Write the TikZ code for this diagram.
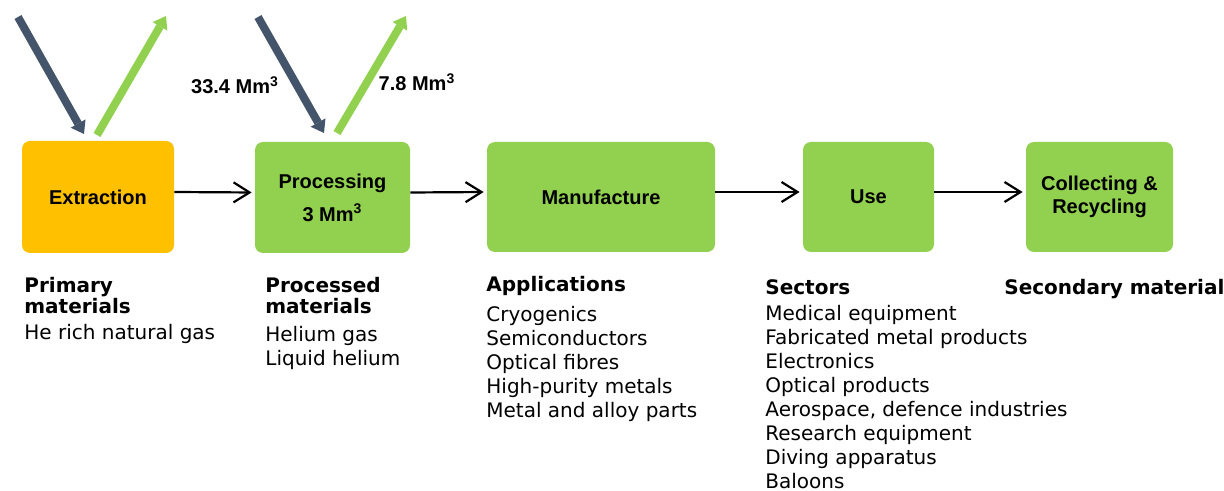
\documentclass[tikz,border=0pt]{standalone}
\usepackage{fontspec}
\setmainfont{DejaVu Sans}
\newfontfamily\arialfont{Liberation Sans}
\usetikzlibrary{arrows.meta,positioning}
\definecolor{extFill}{HTML}{FFC000}
\definecolor{stageFill}{HTML}{92D050}
\definecolor{inDraw}{HTML}{44546A}
\definecolor{outDraw}{HTML}{92D050}
\tikzset{
  box/.style    ={rounded corners=4pt, align=center, inner sep=2pt, font=\arialfont\bfseries\fontsize{10}{11.5}\selectfont},
  extr/.style   ={box, fill=extFill},
  stage/.style  ={box, fill=stageFill},
  arr/.style    ={-{Straight Barb[length=8pt,width=10pt]}, line width=1.1pt, shorten >=1.5pt},
  flowin/.style ={-{Triangle[length=6pt,width=8.5pt,line width=0pt]}, line width=4pt, draw=inDraw},
  flowout/.style={-{Triangle[length=6pt,width=8.5pt,line width=0pt]}, line width=4pt, draw=outDraw},
  qty/.style    ={font=\arialfont\bfseries\fontsize{10}{12}\selectfont},
  head/.style   ={align=left, inner sep=0pt, anchor=north west, font=\bfseries\fontsize{10}{10.5}\selectfont},
  list/.style   ={align=left, inner sep=0pt, font=\fontsize{10}{12}\selectfont},
}
\begin{document}
\begin{tikzpicture}[x=0.5pt,y=-0.5pt]
  \useasboundingbox (0,0) rectangle (1224,491);

  % stages
  \node[extr,  minimum width=76pt,   minimum height=56pt]   (ext)  at (98,197)    {Extraction};
  \node[stage, minimum width=77.5pt, minimum height=55.5pt] (proc) at (332.5,197.5) {Processing\\[5pt]3 Mm\textsuperscript{3}};
  \node[stage, minimum width=114pt,  minimum height=55pt]   (man)  at (601,197)   {Manufacture};
  \node[stage, minimum width=65.5pt, minimum height=55pt]   (use)  at (868.5,197) {Use};
  \node[stage, minimum width=73.5pt, minimum height=55pt]   (rec)  at (1099.5,197) {Collecting \&\\Recycling};
  \draw[arr] ([yshift=2.5pt]ext.east) -- ([yshift=2.5pt]proc.west);
  \draw[arr] ([yshift=2.5pt]proc.east) -- ([yshift=2.5pt]man.west);
  \draw[arr] ([yshift=2.5pt]man.east) -- ([yshift=2.5pt]use.west);
  \draw[arr] ([yshift=2.5pt]use.east) -- ([yshift=2.5pt]rec.west);

  % gas in and out
  \coordinate (inA1)  at (18,17);   \coordinate (inA2)  at (84,134);
  \coordinate (outA1) at (97,135);  \coordinate (outA2) at (166,16);
  \coordinate (inB1)  at (258,17);  \coordinate (inB2)  at (324,133);
  \coordinate (outB1) at (337,133); \coordinate (outB2) at (406,16);
  \draw[flowin]  (inA1) -- (inA2);
  \draw[flowout] (outA1) -- (outA2);
  \draw[flowin]  (inB1) -- (inB2);
  \draw[flowout] (outB1) -- (outB2);
  \node[qty] (qIn)  at (235,85) {33.4 Mm\textsuperscript{3}};
  \node[qty] (qOut) at (417,82) {7.8 Mm\textsuperscript{3}};

  % materials, applications and sectors
  \node[head] (hPri) at (24,277) {Primary\\materials};
  \node[list, below=5pt of hPri.south west, anchor=north west] (lPri) {He rich natural gas};
  \node[head] (hPro) at (265,277) {Processed\\materials};
  \node[list, below=6pt of hPro.south west, anchor=north west] (lPro) {Helium gas\\Liquid helium};
  \node[head] (hApp) at (486,276) {Applications};
  \node[list, below=5pt of hApp.south west, anchor=north west] (lApp) {Cryogenics\\Semiconductors\\Optical fibres\\High-purity metals\\Metal and alloy parts};
  \node[head] (hSec) at (765,279) {Sectors};
  \node[list, below=5pt of hSec.south west, anchor=north west] (lSec) {Medical equipment\\Fabricated metal products\\Electronics\\Optical products\\Aerospace, defence industries\\Research equipment\\Diving apparatus\\Baloons};
  \node[head] (hSnd) at (1004,279) {Secondary material};
\end{tikzpicture}
\end{document}
